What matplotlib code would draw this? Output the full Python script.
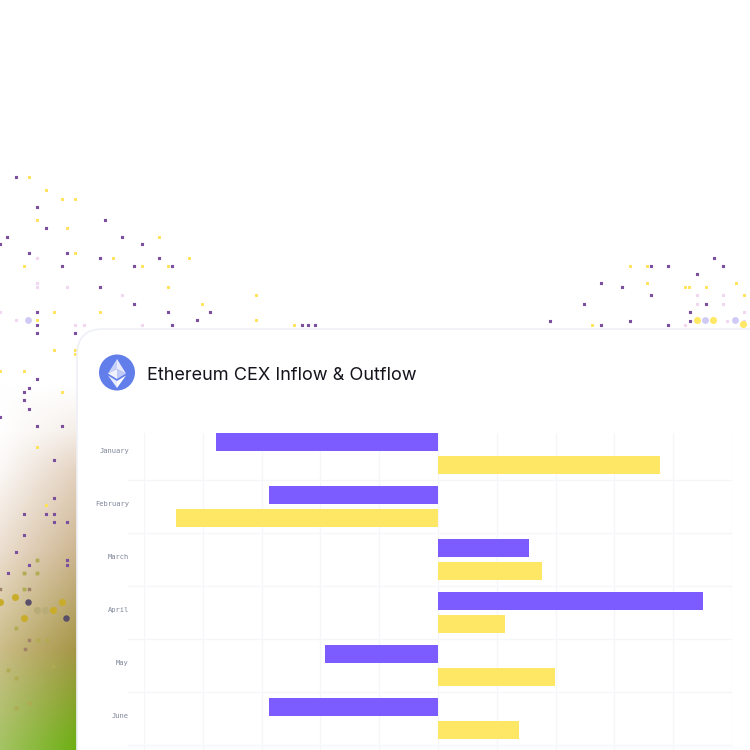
import numpy as np
import matplotlib
matplotlib.use("Agg")
import matplotlib.pyplot as plt
from matplotlib.patches import FancyBboxPatch, Circle, Polygon

months = ["January", "February", "March", "April", "May", "June"]
inflow = [-378, -288, 155, 451, -192, -288]
outflow = [378, -446, 177, 114, 199, 138]
title = "Ethereum CEX Inflow & Outflow"

purple_dots = [(16,177),(37,207),(105,220),(46,228),(7,237),(122,237),(142,244),(0,244),(29,253),(67,253),
 (100,258),(159,258),(62,266),(134,266),(172,266),(100,287),(134,304),(37,312),(168,312),(210,312),(197,320),
 (37,325),(172,325),(37,333),(75,333),(302,325),(308,325),(315,325),(37,379),(29,388),(24,392),(24,400),(29,409),
 (0,417),(37,426),(62,426),(54,460),(54,498),(24,514),(46,514),(54,514),(54,522),(67,522),(24,535),(16,552),
 (8,573),(29,565),(67,560),(67,565),(714,258),(651,266),(668,266),(723,266),(697,274),(601,283),(622,287),
 (651,295),(584,304),(706,304),(690,312),(550,321),(630,321),(690,321),(601,325),(668,325)]
yellow_dots = [(29,177),(46,190),(62,199),(75,199),(37,220),(67,228),(159,237),(75,253),(113,258),(189,258),
 (24,266),(142,266),(168,266),(168,287),(256,295),(202,304),(54,312),(100,312),(37,320),(256,320),(294,325),
 (54,350),(75,350),(75,354),(0,371),(24,371),(62,392),(37,447),(46,505),(630,266),(647,266),(647,283),(685,287),
 (689,287),(706,287),(736,283),(744,295),(592,325)]
pink_dots = [(37,258),(37,283),(37,287),(67,287),(122,295),(0,312),(16,320),(75,325),(84,325),(142,325),
 (697,295),(723,295),(697,304),(723,304),(744,312),(727,321),(744,321),(685,325)]
olive_dots = [(37,560),(24,573),(37,573),(24,589),(16,628),(38,640),(47,640),(8,670),(16,678),(16,708),(29,703),(53,666)]
brown_dots = [(29,589),(0,589),(29,640),(25,649)]
gold_big = [(15,597),(62,602),(0,602),(53,610),(24,618)]
grey_big = [(37,610),(45,610)]
dark_big = [(28,602),(66,618)]
lav_big = [(28,320),(705,320),(735,320)]
yellow_big = [(697,320),(713,320),(743,324)]

# backdrop colour stops: y position, colour at x=0, colour at x=76
grad_y = [385, 430, 470, 550, 650, 745]
grad_left = [(255,255,255), (255,255,255), (251,248,246), (236,222,208), (203,188,135), (165,195,100)]
grad_right = [(255,255,255), (245,238,232), (228,210,192), (205,182,145), (165,150,70), (110,175,20)]

fig = plt.figure(figsize=(7.5, 7.5), dpi=100, facecolor="white")
bg = fig.add_axes([0, 0, 1, 1])
bg.axis("off")

ys = np.arange(380, 750)
xs = np.arange(0, 80)
left = np.stack([np.interp(ys, grad_y, [c[i] for c in grad_left]) for i in range(3)], axis=1)
right = np.stack([np.interp(ys, grad_y, [c[i] for c in grad_right]) for i in range(3)], axis=1)
w = (xs / 76.0)[None, :, None]
img = (left[:, None, :] * (1 - w) + right[:, None, :] * w) / 255.0
bg.imshow(np.clip(img, 0, 1), extent=(0, 80, 750, 380), aspect="auto", zorder=0, interpolation="bilinear")
bg.set_xlim(0, 750); bg.set_ylim(750, 0)

def dots(pts, color, s, alpha=1.0):
    a = np.array(pts, float)
    c = bg.scatter(a[:, 0], a[:, 1], s=s, c=color, marker="s", linewidths=0, alpha=alpha, zorder=1)
    c.set_snap(False)

def blobs(pts, color, s, alpha=1.0):
    a = np.array(pts, float)
    bg.scatter(a[:, 0], a[:, 1], s=s, c=color, marker="o", linewidths=0, alpha=alpha, zorder=1)

dots(purple_dots, "#7d4f9f", 5)
dots(yellow_dots, "#ffe35a", 4.5)
dots(pink_dots, "#f0d8f0", 5)
dots(olive_dots, "#b0aa50", 7)
dots(brown_dots, "#a08068", 6)
blobs(gold_big, "#c9ac2a", 26)
blobs(grey_big, "#b8ac78", 26)
blobs(dark_big, "#5a4f6a", 22)
blobs(lav_big, "#cfc9f5", 24)
blobs(yellow_big, "#ffe866", 26)

card = FancyBboxPatch((77, 329), 800, 600, boxstyle="round,pad=0,rounding_size=26",
                      facecolor="white", edgecolor="#eef0f7", linewidth=1.2, zorder=2)
bg.add_patch(card)

# logo
bg.add_patch(Circle((117, 372.5), 18, facecolor="#627eea", edgecolor="none", zorder=3))
bg.add_patch(Polygon([(117, 359), (117, 369), (108, 373.5)], fc="white", alpha=0.65, ec="none", zorder=4))
bg.add_patch(Polygon([(117, 359), (117, 369), (126, 373.5)], fc="white", alpha=0.85, ec="none", zorder=4))
bg.add_patch(Polygon([(117, 369), (108, 373.5), (117, 379)], fc="white", alpha=0.9, ec="none", zorder=4))
bg.add_patch(Polygon([(117, 369), (126, 373.5), (117, 379)], fc="white", alpha=0.6, ec="none", zorder=4))
bg.add_patch(Polygon([(117, 381), (108, 375.5), (117, 388)], fc="white", alpha=0.85, ec="none", zorder=4))
bg.add_patch(Polygon([(117, 381), (126, 375.5), (117, 388)], fc="white", alpha=1.0, ec="none", zorder=4))

bg.text(147, 375, title, fontsize=13.05, family="Inter", color="#14141c", va="center", ha="left", zorder=4)

# main chart
L, R, T, B = 144, 732, 433, 750
ax = fig.add_axes([L / 750, 1 - B / 750, (R - L) / 750, (B - T) / 750])
ax.patch.set_alpha(0)
ax.set_xlim(-500, 500)
row_px = 52.9
ax.set_ylim((B - 427.4) / row_px, (T - 427.4) / row_px)
for s in ax.spines.values():
    s.set_visible(False)
y = np.arange(len(months)) + 0.5
off = 0.218
h = 0.34
ax.barh(y - off, inflow, height=h, color="#7c5cff", zorder=3)
ax.barh(y + off, outflow, height=h, color="#ffe766", zorder=3)
ax.set_xticks(np.arange(-500, 501, 100))
ax.tick_params(axis="x", length=0, labelbottom=False)
ax.grid(axis="x", color="#f5f6f9", linewidth=0.9, zorder=0)
ax.set_yticks(y - 0.06, months, fontsize=5.1, family="DejaVu Sans Mono", color="#80869a")
ax.tick_params(axis="y", length=0, pad=10.8)
ax.hlines(np.arange(1, 7), -529, 500, color="#f5f6f9", linewidth=0.9, clip_on=False, zorder=0)

fig.savefig("out.png", dpi=100)
